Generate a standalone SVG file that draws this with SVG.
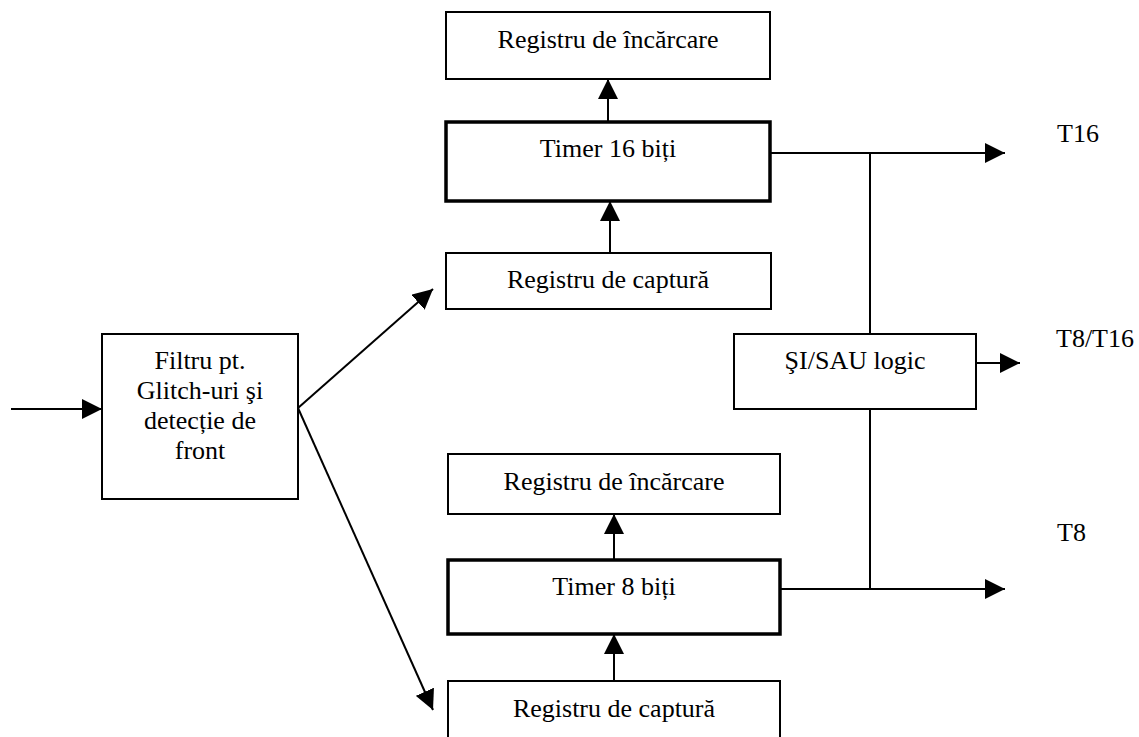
<svg xmlns="http://www.w3.org/2000/svg" width="1139" height="737" viewBox="0 0 1139 737">
  <style>
    .box { fill: #ffffff; stroke: #000000; stroke-width: 2; }
    .thick { fill: #ffffff; stroke: #000000; stroke-width: 3.5; }
    .lbl { font-family: "Liberation Serif", "Times New Roman", serif; font-size: 26px; fill: #000000; text-anchor: middle; }
    .out { font-family: "Liberation Serif", "Times New Roman", serif; font-size: 26px; fill: #000000; }
    .wire { stroke: #000000; stroke-width: 2; fill: none; }
    .arr { stroke: #000000; stroke-width: 2; fill: none; marker-end: url(#head); }
  </style>
  <defs>
    <marker id="head" markerUnits="userSpaceOnUse" markerWidth="20" markerHeight="20" refX="20" refY="10" orient="auto">
      <path d="M0,0 L20,10 L0,20 Z" fill="#000000"/>
    </marker>
  </defs>
  <rect width="1139" height="737" fill="#ffffff"/>

  <!-- connectors -->
  <g id="connectors">
    <line class="arr" x1="11" y1="409" x2="102" y2="409"/>
    <line class="arr" x1="298" y1="408" x2="433" y2="289"/>
    <line class="arr" x1="298" y1="408" x2="433" y2="710"/>
    <line class="arr" x1="608" y1="122" x2="608" y2="79"/>
    <line class="arr" x1="610" y1="253" x2="610" y2="201"/>
    <line class="arr" x1="614" y1="560" x2="614" y2="514"/>
    <line class="arr" x1="614" y1="681" x2="614" y2="634"/>
    <line class="arr" x1="764" y1="153" x2="1005" y2="153"/>
    <line class="arr" x1="780" y1="589" x2="1005" y2="589"/>
    <line class="arr" x1="976" y1="363" x2="1020" y2="363"/>
    <line class="wire" x1="870" y1="153" x2="870" y2="334"/>
    <line class="wire" x1="870" y1="409" x2="870" y2="589"/>
  </g>

  <!-- input filter -->
  <g id="filter">
    <rect class="box" x="102" y="334" width="196" height="165"/>
    <text class="lbl" x="200" y="369">Filtru pt.</text>
    <text class="lbl" x="200" y="399">Glitch-uri şi</text>
    <text class="lbl" x="200" y="429">detecție de</text>
    <text class="lbl" x="200" y="459">front</text>
  </g>

  <!-- 16-bit channel -->
  <g id="load16">
    <rect class="box" x="446" y="12" width="324" height="67"/>
    <text class="lbl" x="608" y="48">Registru de încărcare</text>
  </g>
  <g id="timer16">
    <rect class="thick" x="446" y="122" width="324" height="79"/>
    <text class="lbl" x="608" y="157">Timer 16 biți</text>
  </g>
  <g id="capture16">
    <rect class="box" x="446" y="253" width="325" height="56"/>
    <text class="lbl" x="608" y="288">Registru de captură</text>
  </g>

  <!-- 8-bit channel -->
  <g id="load8">
    <rect class="box" x="448" y="454" width="332" height="60"/>
    <text class="lbl" x="614" y="490">Registru de încărcare</text>
  </g>
  <g id="timer8">
    <rect class="thick" x="448" y="560" width="332" height="74"/>
    <text class="lbl" x="614" y="595">Timer 8 biți</text>
  </g>
  <g id="capture8">
    <rect class="box" x="448" y="681" width="332" height="70"/>
    <text class="lbl" x="614" y="717">Registru de captură</text>
  </g>

  <!-- combining logic -->
  <g id="logic">
    <rect class="box" x="734" y="334" width="242" height="75"/>
    <text class="lbl" x="855" y="369">ŞI/SAU logic</text>
  </g>

  <!-- outputs -->
  <g id="outputs">
    <text class="out" x="1057" y="142">T16</text>
    <text class="out" x="1056" y="347">T8/T16</text>
    <text class="out" x="1057" y="541">T8</text>
  </g>
</svg>
